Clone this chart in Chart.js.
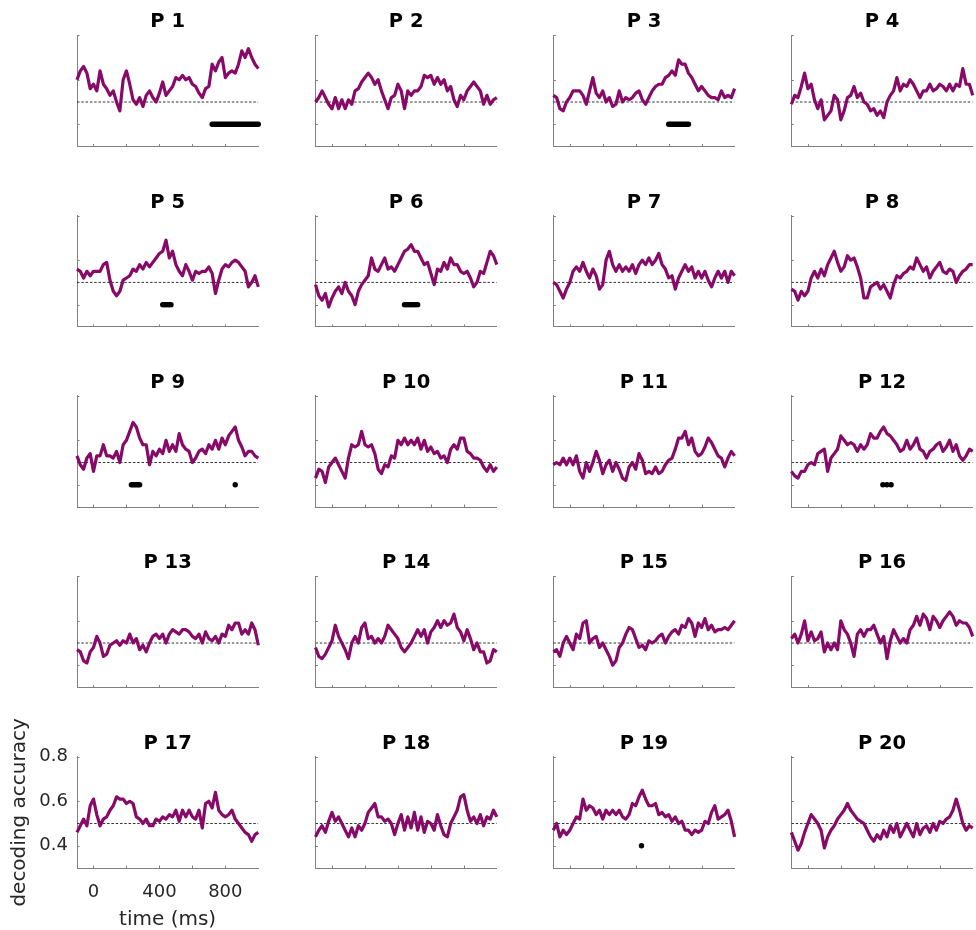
<!DOCTYPE html>
<html>
<head>
<meta charset="utf-8">
<script src="https://cdn.jsdelivr.net/npm/chart.js@4.4.1/dist/chart.umd.min.js"></script>
<style>
  html, body { margin: 0; padding: 0; background: #fff; }
  #fig { position: relative; width: 976px; height: 930px; overflow: hidden; }
  #fig canvas { position: absolute; }
</style>
</head>
<body>
<div id="fig"></div>
<script>
// time points (ms), one every 20 ms
const times = [-100,-80,-60,-40,-20,0,20,40,60,80,100,120,140,160,180,200,220,240,260,280,
  300,320,340,360,380,400,420,440,460,480,500,520,540,560,580,600,620,640,660,680,
  700,720,740,760,780,800,820,840,860,880,900,920,940,960,980,1000];

// decoding accuracy per participant
const p01 = [0.60,0.64,0.66,0.63,0.56,0.58,0.55,0.64,0.58,0.56, 0.53,0.55,0.50,0.46,0.60,0.64,0.58,0.51,0.49,0.52,
  0.48,0.53,0.55,0.52,0.50,0.54,0.59,0.53,0.55,0.57, 0.61,0.60,0.62,0.60,0.61,0.58,0.57,0.54,0.52,0.56,
  0.57,0.67,0.64,0.68,0.70,0.61,0.63,0.64,0.63,0.67, 0.73,0.70,0.74,0.70,0.67,0.65];
const p02 = [0.50,0.52,0.55,0.52,0.49,0.47,0.52,0.47,0.51,0.47, 0.51,0.49,0.55,0.56,0.59,0.61,0.63,0.61,0.58,0.60,
  0.55,0.51,0.47,0.52,0.53,0.58,0.55,0.47,0.55,0.53, 0.55,0.55,0.57,0.62,0.61,0.62,0.58,0.61,0.58,0.60,
  0.55,0.57,0.51,0.48,0.53,0.51,0.55,0.57,0.59,0.57, 0.55,0.49,0.53,0.49,0.51,0.52];
const p03 = [0.53,0.52,0.47,0.46,0.50,0.52,0.55,0.55,0.55,0.53, 0.49,0.55,0.61,0.54,0.52,0.55,0.50,0.52,0.48,0.49,
  0.55,0.50,0.52,0.51,0.52,0.54,0.55,0.51,0.49,0.52, 0.55,0.57,0.58,0.58,0.61,0.62,0.64,0.62,0.69,0.67,
  0.67,0.63,0.61,0.58,0.55,0.57,0.55,0.53,0.52,0.52, 0.51,0.55,0.52,0.53,0.52,0.56];
const p04 = [0.49,0.53,0.52,0.57,0.63,0.56,0.58,0.51,0.47,0.51, 0.42,0.44,0.46,0.53,0.51,0.42,0.46,0.52,0.53,0.57,
  0.52,0.54,0.50,0.49,0.46,0.47,0.44,0.46,0.43,0.50, 0.53,0.55,0.61,0.55,0.58,0.57,0.60,0.58,0.55,0.52,
  0.55,0.55,0.58,0.55,0.56,0.58,0.57,0.55,0.58,0.55, 0.58,0.57,0.65,0.58,0.58,0.53];
const p05 = [0.56,0.55,0.52,0.55,0.53,0.55,0.55,0.55,0.58,0.59, 0.51,0.46,0.44,0.46,0.51,0.52,0.53,0.56,0.55,0.58,
  0.56,0.59,0.57,0.59,0.61,0.63,0.64,0.69,0.61,0.64, 0.58,0.55,0.53,0.58,0.55,0.51,0.55,0.54,0.55,0.55,
  0.57,0.54,0.45,0.51,0.56,0.58,0.57,0.59,0.60,0.59, 0.57,0.55,0.48,0.50,0.53,0.48];
const p06 = [0.49,0.44,0.42,0.45,0.39,0.43,0.46,0.48,0.45,0.50, 0.46,0.44,0.40,0.46,0.49,0.51,0.53,0.61,0.56,0.55,
  0.58,0.61,0.56,0.57,0.55,0.58,0.61,0.64,0.65,0.67, 0.64,0.64,0.61,0.58,0.59,0.54,0.49,0.56,0.55,0.59,
  0.56,0.61,0.58,0.58,0.55,0.54,0.55,0.52,0.48,0.50, 0.55,0.54,0.59,0.64,0.62,0.58];
const p07 = [0.50,0.49,0.46,0.43,0.47,0.50,0.55,0.57,0.55,0.59, 0.55,0.52,0.56,0.53,0.47,0.49,0.60,0.64,0.58,0.55,
  0.58,0.55,0.57,0.55,0.58,0.54,0.58,0.60,0.58,0.61, 0.58,0.60,0.63,0.58,0.56,0.52,0.53,0.47,0.52,0.55,
  0.58,0.55,0.57,0.52,0.55,0.52,0.55,0.51,0.48,0.52, 0.55,0.52,0.55,0.50,0.55,0.53];
const p08 = [0.47,0.46,0.42,0.46,0.44,0.46,0.52,0.55,0.52,0.56, 0.53,0.58,0.61,0.64,0.59,0.55,0.57,0.62,0.60,0.61,
  0.57,0.52,0.43,0.43,0.48,0.49,0.50,0.47,0.49,0.46, 0.43,0.49,0.53,0.52,0.54,0.55,0.57,0.56,0.61,0.58,
  0.55,0.57,0.52,0.55,0.57,0.59,0.55,0.54,0.56,0.55, 0.50,0.53,0.55,0.56,0.58,0.58];
const p09 = [0.53,0.49,0.47,0.52,0.54,0.46,0.53,0.53,0.58,0.53, 0.53,0.52,0.55,0.50,0.58,0.60,0.64,0.68,0.66,0.61,
  0.58,0.58,0.49,0.55,0.53,0.56,0.54,0.60,0.55,0.58, 0.55,0.63,0.58,0.56,0.55,0.50,0.52,0.55,0.56,0.54,
  0.58,0.56,0.60,0.56,0.61,0.58,0.62,0.64,0.66,0.60, 0.57,0.53,0.55,0.55,0.53,0.52];
const p10 = [0.43,0.47,0.46,0.41,0.48,0.50,0.52,0.49,0.46,0.43, 0.52,0.58,0.57,0.58,0.64,0.58,0.57,0.58,0.54,0.47,
  0.45,0.49,0.48,0.53,0.52,0.60,0.58,0.61,0.58,0.60, 0.58,0.61,0.56,0.60,0.55,0.57,0.54,0.55,0.52,0.53,
  0.50,0.56,0.58,0.56,0.61,0.61,0.55,0.54,0.52,0.52, 0.51,0.48,0.46,0.49,0.46,0.48];
const p11 = [0.49,0.50,0.49,0.52,0.49,0.52,0.49,0.53,0.46,0.43, 0.50,0.46,0.50,0.55,0.51,0.45,0.49,0.51,0.46,0.50,
  0.47,0.43,0.42,0.48,0.50,0.47,0.54,0.51,0.45,0.46, 0.45,0.48,0.45,0.46,0.49,0.51,0.52,0.56,0.61,0.61,
  0.64,0.58,0.61,0.55,0.53,0.54,0.57,0.61,0.59,0.56, 0.53,0.52,0.48,0.52,0.55,0.53];
const p12 = [0.46,0.44,0.43,0.46,0.46,0.49,0.50,0.49,0.54,0.55, 0.56,0.46,0.52,0.54,0.56,0.62,0.60,0.58,0.59,0.58,
  0.55,0.58,0.56,0.58,0.63,0.61,0.61,0.64,0.66,0.63, 0.62,0.60,0.58,0.55,0.56,0.60,0.56,0.58,0.61,0.56,
  0.55,0.52,0.55,0.56,0.58,0.59,0.55,0.57,0.60,0.55, 0.58,0.53,0.51,0.53,0.56,0.55];
const p13 = [0.47,0.46,0.42,0.41,0.46,0.48,0.53,0.50,0.44,0.45, 0.49,0.50,0.51,0.49,0.51,0.50,0.54,0.50,0.52,0.47,
  0.49,0.46,0.50,0.53,0.54,0.52,0.54,0.50,0.54,0.56, 0.55,0.54,0.56,0.56,0.55,0.53,0.52,0.54,0.50,0.55,
  0.52,0.51,0.53,0.50,0.54,0.53,0.58,0.56,0.59,0.59, 0.54,0.56,0.54,0.59,0.56,0.49];
const p14 = [0.48,0.44,0.43,0.45,0.48,0.51,0.58,0.53,0.50,0.47, 0.43,0.50,0.53,0.50,0.57,0.59,0.52,0.53,0.50,0.52,
  0.50,0.53,0.58,0.56,0.54,0.52,0.48,0.46,0.48,0.50, 0.53,0.56,0.53,0.56,0.50,0.55,0.57,0.60,0.57,0.60,
  0.58,0.59,0.63,0.57,0.55,0.51,0.56,0.52,0.47,0.50, 0.46,0.46,0.41,0.42,0.47,0.46];
const p15 = [0.46,0.47,0.44,0.50,0.53,0.50,0.47,0.54,0.52,0.59, 0.60,0.50,0.52,0.53,0.48,0.50,0.47,0.44,0.40,0.42,
  0.48,0.50,0.54,0.57,0.56,0.52,0.48,0.49,0.47,0.51, 0.50,0.51,0.53,0.54,0.50,0.53,0.55,0.56,0.54,0.58,
  0.57,0.61,0.59,0.53,0.59,0.57,0.61,0.56,0.58,0.55, 0.56,0.56,0.57,0.56,0.58,0.60];
const p16 = [0.52,0.54,0.50,0.54,0.60,0.51,0.55,0.51,0.52,0.55, 0.46,0.50,0.47,0.50,0.47,0.60,0.56,0.54,0.50,0.44,
  0.54,0.56,0.53,0.56,0.56,0.58,0.54,0.50,0.53,0.43, 0.51,0.56,0.53,0.50,0.52,0.50,0.56,0.58,0.62,0.58,
  0.63,0.61,0.56,0.62,0.60,0.57,0.60,0.62,0.64,0.62, 0.58,0.60,0.59,0.59,0.57,0.53];
const p17 = [0.46,0.49,0.52,0.49,0.58,0.61,0.54,0.49,0.52,0.53, 0.56,0.58,0.62,0.61,0.61,0.59,0.60,0.59,0.53,0.52,
  0.50,0.52,0.49,0.49,0.52,0.51,0.53,0.52,0.54,0.53, 0.56,0.51,0.56,0.53,0.56,0.53,0.52,0.56,0.48,0.59,
  0.60,0.57,0.64,0.56,0.54,0.53,0.54,0.56,0.52,0.50, 0.48,0.46,0.45,0.42,0.45,0.46];
const p18 = [0.44,0.47,0.49,0.46,0.51,0.55,0.51,0.53,0.50,0.47, 0.44,0.48,0.44,0.49,0.47,0.50,0.55,0.57,0.59,0.53,
  0.53,0.51,0.52,0.50,0.45,0.50,0.54,0.47,0.53,0.48, 0.55,0.47,0.53,0.46,0.51,0.50,0.47,0.54,0.49,0.45,
  0.44,0.50,0.53,0.56,0.62,0.63,0.56,0.51,0.53,0.50, 0.54,0.49,0.53,0.52,0.56,0.53];
const p19 = [0.47,0.50,0.44,0.47,0.45,0.47,0.50,0.53,0.52,0.61, 0.56,0.58,0.57,0.54,0.56,0.52,0.56,0.54,0.56,0.54,
  0.56,0.53,0.52,0.54,0.59,0.58,0.62,0.65,0.61,0.58, 0.58,0.59,0.54,0.55,0.53,0.54,0.51,0.53,0.50,0.51,
  0.47,0.47,0.45,0.47,0.46,0.47,0.51,0.50,0.55,0.58, 0.52,0.53,0.54,0.56,0.51,0.44];
const p20 = [0.46,0.42,0.38,0.41,0.46,0.50,0.54,0.52,0.50,0.47, 0.39,0.44,0.47,0.49,0.52,0.54,0.56,0.59,0.56,0.54,
  0.52,0.51,0.50,0.47,0.44,0.42,0.45,0.43,0.47,0.44, 0.49,0.46,0.50,0.44,0.47,0.50,0.47,0.44,0.50,0.45,
  0.48,0.49,0.46,0.50,0.47,0.51,0.50,0.52,0.53,0.56, 0.61,0.56,0.50,0.47,0.49,0.48];

// time points (ms) where decoding was significant
const sig01 = [720,730,740,750,760,770,780,790,800,810,820,830,840,850,860,870,880,890,900,910,920,930,940,950,960,970,980,990,1000];
const sig03 = [600,610,620,630,640,650,660,670,680,690,700,710,720];
const sig05 = [420,430,440,450,460,470];
const sig06 = [440,450,460,470,480,490,500,510,520];
const sig09 = [230,240,250,260,270,280,860];
const sig12 = [455,480,505];
const sig19 = [435];

const accuracy = [p01,p02,p03,p04,p05,p06,p07,p08,p09,p10,p11,p12,p13,p14,p15,p16,p17,p18,p19,p20];
const significant = [sig01,[],sig03,[],sig05,sig06,[],[],sig09,[],[],sig12,[],[],[],[],[],[],sig19,[]];

const chance = 0.5;
const sigLevel = 0.4;
const xTicks = [0, 200, 400, 600, 800];
const xTickLabels = [0, 400, 800];
const yTicks = [0.4, 0.6, 0.8];

// layout of the grid (page pixels)
const COL_X = [77, 315.5, 553.3, 791.4];
const ROW_Y = [35.3, 215.7, 395.8, 576.3, 756.8];
const AX_W = 181.3, AX_H = 111.2;
const TITLE_SIZE = 19.5;
const TITLE_BOX = TITLE_SIZE * 1.2 + 1.5;
const LINE_COLOR = '#870a68';
const AXIS_COLOR = '#808080';
const LABELED = 16;

Chart.defaults.font.family = 'DejaVu Sans';
Chart.defaults.color = '#262626';

// MATLAB-style inward tick marks
const inwardTicks = {
  id: 'inwardTicks',
  afterDraw(chart) {
    const { ctx, chartArea: a, scales: { x, y } } = chart;
    ctx.save();
    ctx.strokeStyle = AXIS_COLOR;
    ctx.lineWidth = 1;
    ctx.beginPath();
    xTicks.forEach(v => {
      const px = Math.round(x.getPixelForValue(v)) + 0.5;
      ctx.moveTo(px, a.bottom);
      ctx.lineTo(px, a.bottom - 2.5);
    });
    yTicks.forEach(v => {
      const py = Math.round(y.getPixelForValue(v)) + 0.5;
      ctx.moveTo(a.left, py);
      ctx.lineTo(a.left + 2.5, py);
    });
    ctx.stroke();
    ctx.restore();
  }
};

const fig = document.getElementById('fig');

accuracy.forEach((acc, i) => {
  const col = i % 4, row = Math.floor(i / 4);
  const axL = COL_X[col], axT = ROW_Y[row];
  const labeled = i === LABELED;

  // the labelled panel gets extra room above so the y title is not cut
  const top = labeled ? 50 : 32;
  const cx = labeled ? 0 : Math.floor(axL) - 8;
  const cy = Math.floor(axT) - top;
  const w = Math.ceil(axL + AX_W) + 10 - cx;
  const h = labeled ? 930 - cy : top + Math.ceil(AX_H) + 10;

  const canvas = document.createElement('canvas');
  canvas.width = w; canvas.height = h;
  canvas.style.left = cx + 'px'; canvas.style.top = cy + 'px';
  canvas.style.width = w + 'px'; canvas.style.height = h + 'px';
  fig.appendChild(canvas);

  const pad = {
    left: labeled ? 0 : axL - cx,
    right: (cx + w) - (axL + AX_W),
    top: (axT - cy) - TITLE_BOX,
    bottom: labeled ? 0 : (cy + h) - (axT + AX_H)
  };

  new Chart(canvas, {
    type: 'line',
    data: {
      datasets: [
        {
          data: times.map((t, k) => ({ x: t, y: acc[k] })),
          borderColor: LINE_COLOR,
          borderWidth: 3.2,
          borderJoinStyle: 'round',
          pointRadius: 0,
          tension: 0,
          clip: false,
          order: 1
        },
        {
          data: [{ x: -100, y: chance }, { x: 1000, y: chance }],
          borderColor: '#333',
          borderWidth: 1,
          borderDash: [2.5, 1.8],
          pointRadius: 0,
          order: 2
        },
        {
          data: significant[i].map(t => ({ x: t, y: sigLevel })),
          showLine: false,
          pointRadius: 2.7,
          pointBackgroundColor: '#000',
          pointBorderWidth: 0,
          clip: false,
          order: 0
        }
      ]
    },
    options: {
      responsive: false,
      animation: false,
      devicePixelRatio: 1,
      events: [],
      layout: { padding: pad },
      plugins: {
        legend: { display: false },
        tooltip: { enabled: false },
        title: {
          display: true,
          text: 'P ' + (i + 1),
          color: '#000',
          fullSize: false,
          font: { size: TITLE_SIZE, weight: 'bold', lineHeight: 1.2 },
          padding: { top: 0, bottom: 1.5 }
        }
      },
      scales: {
        x: {
          type: 'linear',
          min: -100,
          max: 1000,
          afterBuildTicks: s => { s.ticks = xTicks.map(v => ({ value: v })); },
          afterFit: s => { s.height = labeled ? 930 - (axT + AX_H) : 0; },
          grid: { display: true, drawOnChartArea: false, drawTicks: false },
          border: { color: AXIS_COLOR, width: 1 },
          ticks: {
            display: labeled,
            autoSkip: false,
            maxRotation: 0,
            padding: 14,
            font: { size: 18 },
            callback: v => xTickLabels.includes(v) ? String(v) : ''
          },
          title: {
            display: labeled,
            text: 'time (ms)',
            font: { size: 20, lineHeight: 1 },
            padding: { top: 0, bottom: 0 }
          }
        },
        y: {
          min: 0.3,
          max: 0.8,
          afterBuildTicks: s => { s.ticks = yTicks.map(v => ({ value: v })); },
          afterFit: s => { s.width = labeled ? axL : 0; },
          grid: { display: true, drawOnChartArea: false, drawTicks: false },
          border: { color: AXIS_COLOR, width: 1 },
          ticks: {
            display: labeled,
            padding: 9,
            font: { size: 18 },
            callback: v => v.toFixed(1)
          },
          title: {
            display: labeled,
            text: 'decoding accuracy',
            font: { size: 20, lineHeight: 1 },
            padding: { top: 10, bottom: 0 }
          }
        }
      }
    },
    plugins: [inwardTicks]
  });
});
</script>
</body>
</html>
